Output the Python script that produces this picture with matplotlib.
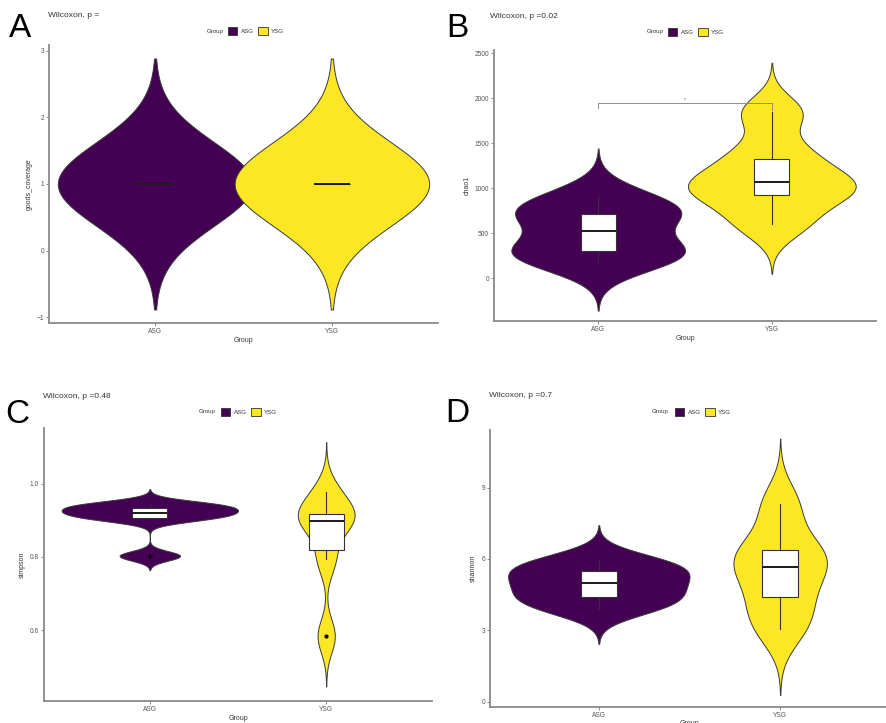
import numpy as np
import matplotlib
matplotlib.use("Agg")
import matplotlib.pyplot as plt
from matplotlib.patches import Patch

plt.rcParams['font.family'] = ['Liberation Sans', 'DejaVu Sans']

W, H = 887, 723

groups = ['ASG', 'YSG']
colors = ['#440154', '#FDE725']

goods_asg = [1.0, 1.0, 1.0, 1.0, 1.0, 1.0]
goods_ysg = [1.0, 1.0, 1.0, 1.0, 1.0, 1.0]
chao1_asg = [178, 280, 360, 684, 720, 900]
chao1_ysg = [600, 900, 1010, 1124, 1388, 1844]
simpson_asg = [0.803, 0.903, 0.915, 0.925, 0.937, 0.946]
simpson_ysg = [0.584, 0.795, 0.893, 0.905, 0.922, 0.976]
shannon_asg = [3.9, 4.3, 4.75, 5.2, 5.6, 5.95]
shannon_ysg = [3.04, 4.1, 5.3, 6.0, 6.5, 8.3]

p_values = ['', '0.02', '0.48', '0.7']
ylabels = ['goods_coverage', 'chao1', 'simpson', 'shannon']
letters = ['A', 'B', 'C', 'D']


def bw_nrd0(x):
    # same rule of thumb as R's density()
    x = np.asarray(x, float)
    hi = x.std(ddof=1)
    q75, q25 = np.percentile(x, [75, 25])
    lo = min(hi, (q75 - q25) / 1.349)
    if not lo:
        lo = hi or abs(x[0]) or 1.0
    return 0.9 * lo * len(x) ** -0.2


def kde(x):
    x = np.asarray(x, float)
    bw = bw_nrd0(x)
    grid = np.linspace(x.min() - 3 * bw, x.max() + 3 * bw, 512)
    d = np.exp(-0.5 * ((grid[:, None] - x[None, :]) / bw) ** 2).sum(1)
    d /= len(x) * bw * np.sqrt(2 * np.pi)
    return grid, d


def px_rect(l, t, r, b):
    return [l / W, 1 - b / H, (r - l) / W, (b - t) / H]


def panel(ax, data, ylabel, ylim, yticks, width=1.0, sig=False, xlabelpad=1.5):
    dens = [kde(d) for d in data]
    dmax = max(d.max() for _, d in dens)
    for i, ((g, d), c) in enumerate(zip(dens, colors)):
        half = d / dmax * width / 2
        ax.fill_betweenx(g, i + 1 - half, i + 1 + half, facecolor=c,
                         edgecolor='#3a3a3a', lw=0.7, zorder=1)
    ax.boxplot(data, positions=[1, 2], widths=0.2, patch_artist=True,
               showcaps=False, zorder=2,
               boxprops=dict(facecolor='white', edgecolor='#333333', lw=0.8),
               medianprops=dict(color='#1a1a1a', lw=1.4),
               whiskerprops=dict(color='#333333', lw=0.8),
               flierprops=dict(marker='o', markersize=2, markerfacecolor='black',
                               markeredgecolor='black'))
    if sig:
        top = max(max(d) for d in data)
        y = top * 1.055
        ax.plot([1, 1, 2, 2], [y - 55, y, y, y - 77], color='#8c8c8c', lw=0.7)
        ax.text(1.5, y + 15, '*', ha='center', va='bottom', fontsize=4, color='#666666')

    ax.set_xlim(0.4, 2.6)
    ax.set_ylim(*ylim)
    ax.set_xticks([1, 2], groups)
    ax.set_yticks(yticks)
    ax.set_xlabel('Group', fontsize=5, color='#333333', labelpad=xlabelpad)
    ax.set_ylabel(ylabel, fontsize=5, color='#333333', labelpad=3)
    for s in ['top', 'right']:
        ax.spines[s].set_visible(False)
    for s in ['left', 'bottom']:
        ax.spines[s].set_color('#8a8a8a')
        ax.spines[s].set_linewidth(1.3)
    ax.tick_params(length=2, width=0.7, color='#8a8a8a', labelsize=4.8,
                   labelcolor='#555555', pad=1.5)


fig = plt.figure(figsize=(W / 100, H / 100), dpi=100)

ax_a = fig.add_axes(px_rect(49, 45, 438, 323))
panel(ax_a, [goods_asg, goods_ysg], ylabels[0], (-1.09, 3.09), [-1, 0, 1, 2, 3], width=1.1)

ax_b = fig.add_axes(px_rect(494, 50, 876, 321))
panel(ax_b, [chao1_asg, chao1_ysg], ylabels[1], (-478, 2537), [0, 500, 1000, 1500, 2000, 2500], sig=True)

ax_c = fig.add_axes(px_rect(44, 428, 432, 701))
panel(ax_c, [simpson_asg, simpson_ysg], ylabels[2], (0.407, 1.152), [0.6, 0.8, 1.0])
ax_c.set_yticklabels(['0.6', '0.8', '1.0'])

ax_d = fig.add_axes(px_rect(490, 430, 889, 707))
panel(ax_d, [shannon_asg, shannon_ysg], ylabels[3], (-0.23, 11.43), [0, 3, 6, 9], xlabelpad=0.5)

# panel letters, titles and top legends (pixel positions from the picture)
letter_pos = [(9, 37), (446, 37), (5, 423), (445, 422)]
title_pos = [(48, 17), (490, 18), (43, 398), (489, 397)]
group_pos = [(207, 31), (647, 32), (199, 412), (652, 412)]
legend_pos = [(256, 31), (696, 32), (249, 412), (703, 412)]

handles = [Patch(facecolor=c, edgecolor='#333333', lw=0.6) for c in colors]
for i in range(4):
    lx, ly = letter_pos[i]
    fig.text(lx / W, 1 - ly / H, letters[i], fontsize=24, va='baseline', ha='left')
    tx, ty = title_pos[i]
    fig.text(tx / W, 1 - ty / H, 'Wilcoxon, p =' + p_values[i], fontsize=6,
             color='#333333', va='baseline', ha='left')
    gx, gy = group_pos[i]
    fig.text(gx / W, 1 - gy / H, 'Group', fontsize=4.4, color='#333333',
             va='center', ha='left')
    cx, cy = legend_pos[i]
    fig.legend(handles, groups, loc='center', bbox_to_anchor=(cx / W, 1 - cy / H),
               ncol=2, frameon=False, fontsize=4.4, handlelength=1.6, handleheight=1.6,
               handletextpad=0.5, columnspacing=0.8, borderpad=0, labelcolor='#333333')

fig.savefig('out.png', dpi=100)
